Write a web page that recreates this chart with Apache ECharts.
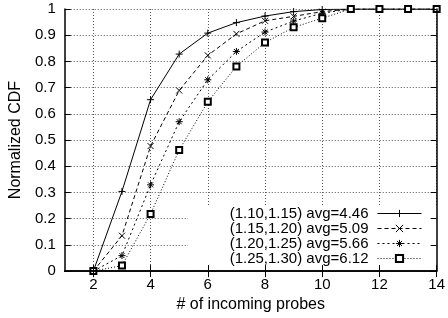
<!DOCTYPE html>
<html>
<head>
<meta charset="utf-8">
<script src="https://cdn.jsdelivr.net/npm/echarts@6/dist/echarts.min.js"></script>
<style>html,body{margin:0;padding:0;background:#fff}#c{width:448px;height:318px}</style>
</head>
<body>
<div id="c"></div>
<script>
var categories = ['1','2','3','4','5','6','7','8','9','10','11','12','13','14'];
var s110 = [null, 0, 0.304, 0.654, 0.828, 0.908, 0.948, 0.973, 0.990, 0.998, 1, 1, 1, 1];
var s115 = [null, 0, 0.135, 0.477, 0.689, 0.823, 0.905, 0.955, 0.972, 0.990, 1, 1, 1, 1];
var s120 = [null, 0, 0.059, 0.329, 0.570, 0.730, 0.838, 0.912, 0.954, 0.984, 1, 1, 1, 1];
var s125 = [null, 0, 0.021, 0.218, 0.462, 0.646, 0.781, 0.872, 0.930, 0.965, 1, 1, 1, 1];
var seriesNames = ['(1.10,1.15) avg=4.46', '(1.15,1.20) avg=5.09', '(1.20,1.25) avg=5.66', '(1.25,1.30) avg=6.12'];

var FONT = '"Liberation Sans", Arial, Helvetica, sans-serif';
var evenOnly = function (i, v) { return Number(v) % 2 === 0; };
var symPlus = 'path://M0,5L10,5M5,0L5,10';
var symX = 'path://M0,0L10,10M0,10L10,0';
var symStar = 'path://M0,5L10,5M5,0L5,10M1.5,1.5L8.5,8.5M1.5,8.5L8.5,1.5';

function mk(name, data, symbol, dash, size) {
  var isEmpty = symbol === 'emptyRect';
  return {
    name: name, type: 'line', data: data, xAxisIndex: 0, yAxisIndex: 0,
    symbol: symbol, symbolSize: size, showSymbol: true, connectNulls: false,
    z: 3,
    lineStyle: { color: '#000', width: 1, type: dash },
    itemStyle: isEmpty ? { color: '#000', borderColor: '#000', borderWidth: 1 }
                       : { color: 'transparent', borderColor: '#000', borderWidth: 1 },
    emphasis: { disabled: true },
    animation: false
  };
}

var chart = echarts.init(document.getElementById('c'), null, { renderer: 'canvas' });
chart.setOption({
  animation: false,
  backgroundColor: '#fff',
  textStyle: { fontFamily: FONT },
  grid: { left: 60, right: 5, top: 9, bottom: 46, containLabel: false },
  graphic: [{
    type: 'rect', z: 1,
    shape: { x: 188, y: 205, width: 253, height: 66 },
    style: { fill: '#fff' }
  }],
  xAxis: [
    { type: 'category', data: categories, boundaryGap: false, position: 'bottom', z: 0,
      axisLine: { show: false }, axisTick: { show: false }, axisLabel: { show: false },
      splitLine: { show: true, interval: evenOnly, lineStyle: { color: '#555', width: 1, type: [1, 2] } } },
    { type: 'category', data: categories, boundaryGap: false, position: 'bottom', z: 10,
      axisLine: { show: true, lineStyle: { color: '#000', width: 1.5 } },
      axisTick: { show: true, inside: true, length: 6, interval: evenOnly, lineStyle: { color: '#000', width: 1 } },
      axisLabel: { show: true, interval: evenOnly, margin: 6, color: '#000', fontSize: 15, fontFamily: FONT },
      splitLine: { show: false },
      name: '# of incoming probes', nameLocation: 'middle', nameGap: 24,
      nameTextStyle: { color: '#000', fontSize: 16, fontFamily: FONT } },
    { type: 'category', data: categories, boundaryGap: false, position: 'top', z: 10,
      axisLine: { show: true, lineStyle: { color: '#000', width: 1.5 } },
      axisTick: { show: true, inside: true, length: 6, interval: evenOnly, lineStyle: { color: '#000', width: 1 } },
      axisLabel: { show: false }, splitLine: { show: false } }
  ],
  yAxis: [
    { type: 'value', min: 0, max: 1, interval: 0.1, position: 'left', z: 0,
      axisLine: { show: false }, axisTick: { show: false }, axisLabel: { show: false },
      splitLine: { show: true, lineStyle: { color: '#555', width: 1, type: [1, 2] } } },
    { type: 'value', min: 0, max: 1, interval: 0.1, position: 'left', z: 10,
      axisLine: { show: true, lineStyle: { color: '#000', width: 1.5 } },
      axisTick: { show: true, inside: true, length: 6, lineStyle: { color: '#000', width: 1 } },
      axisLabel: { show: true, margin: 9, color: '#000', fontSize: 15, fontFamily: FONT,
        formatter: function (v) { return String(Math.round(v * 10) / 10); } },
      splitLine: { show: false },
      name: 'Normalized CDF', nameLocation: 'middle', nameGap: 38, nameRotate: 90,
      nameTextStyle: { color: '#000', fontSize: 16, fontFamily: FONT } },
    { type: 'value', min: 0, max: 1, interval: 0.1, position: 'right', z: 10,
      axisLine: { show: true, lineStyle: { color: '#000', width: 1.5 } },
      axisTick: { show: true, inside: true, length: 6, lineStyle: { color: '#000', width: 1 } },
      axisLabel: { show: false }, splitLine: { show: false } }
  ],
  legend: {
    orient: 'vertical', right: 26, top: 206, padding: 0, align: 'right',
    itemWidth: 44, itemHeight: 9, itemGap: 0, z: 11,
    selectedMode: false,
    lineStyle: { width: 1 },
    itemStyle: { borderWidth: 1 },
    textStyle: { color: '#000', fontSize: 15, fontFamily: FONT, lineHeight: 13.3, padding: [0, 4, 0, 0] },
    data: seriesNames
  },
  series: [
    mk(seriesNames[0], s110, symPlus, 'solid', 7),
    mk(seriesNames[1], s115, symX, [4, 3], 6),
    mk(seriesNames[2], s120, symStar, [2, 3], 7),
    mk(seriesNames[3], s125, 'emptyRect', [1, 2], 6)
  ]
});
</script>
</body>
</html>
